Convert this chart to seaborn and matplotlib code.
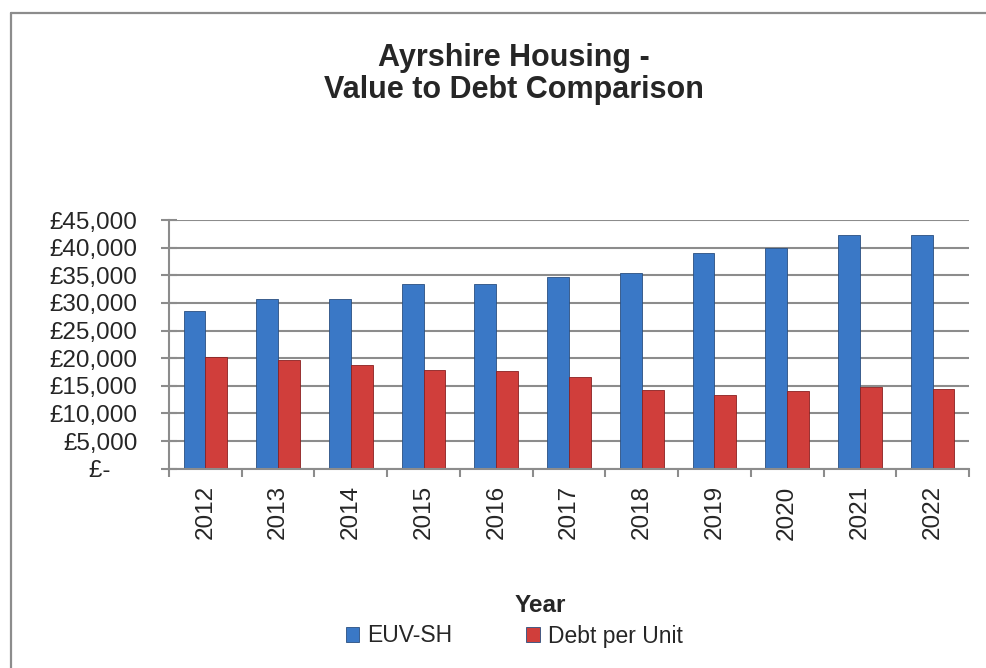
import pandas as pd
import matplotlib.pyplot as plt
import numpy as np
import seaborn as sns
from matplotlib.lines import Line2D
from matplotlib.ticker import FuncFormatter

# Datos
years = ['2012', '2013', '2014', '2015', '2016', '2017', '2018', '2019', '2020', '2021', '2022']
euv_sh = [28500, 30700, 30700, 33400, 33400, 34600, 35400, 39000, 39900, 42200, 42200]
debt_per_unit = [20300, 19700, 18700, 17900, 17600, 16600, 14200, 13400, 14000, 14800, 14400]
series_names = ['EUV-SH', 'Debt per Unit']

df = pd.DataFrame({
    'year': years * 2,
    'value': euv_sh + debt_per_unit,
    'series': [series_names[0]] * len(years) + [series_names[1]] * len(years),
})

sns.set_style('white')
plt.rcParams['font.family'] = ['Liberation Sans', 'DejaVu Sans']

W, H = 986, 668
fig = plt.figure(figsize=(W / 100, H / 100), dpi=100)
ax = fig.add_axes([169 / W, 1 - 468.7 / H, 800 / W, 248.7 / H])

palette = {'EUV-SH': '#3a78c6', 'Debt per Unit': '#d03e3b'}
sns.barplot(
    data=df, x='year', y='value', hue='series', order=years,
    hue_order=series_names, palette=palette, width=0.6, gap=0,
    saturation=1, edgecolor='#2a4f80', linewidth=0.6, ax=ax, legend=True
)
# bordes de las barras rojas
for bar in ax.containers[1]:
    bar.set_edgecolor('#8a2020')

ax.set_ylim(0, 45000)
ax.set_xlim(-0.5, len(years) - 0.5)
ax.set_yticks(np.arange(0, 45001, 5000))
ax.yaxis.set_major_formatter(FuncFormatter(lambda v, p: '£-    ' if v == 0 else f'£{v:,.0f}'))
ax.grid(axis='y', color='#8c8c8c', linewidth=1.5)
ax.set_axisbelow(True)

for s in ['top', 'right']:
    ax.spines[s].set_visible(False)
for s in ['left', 'bottom']:
    ax.spines[s].set_color('#8c8c8c')
    ax.spines[s].set_linewidth(1.5)

ax.tick_params(axis='y', length=11, width=1.5, color='#8c8c8c', left=True,
               direction='inout', labelsize=17.5, pad=17)

ax.set_xticks(range(len(years)))
ax.set_xticklabels(years, rotation=90, fontsize=17.5)
ax.tick_params(axis='x', which='major', length=0, pad=12)
ax.set_xticks(np.arange(-0.5, len(years)), minor=True)
ax.tick_params(axis='x', which='minor', length=6, width=1.5, color='#8c8c8c', bottom=True)

ax.set_xlabel('')
ax.set_ylabel('')

fig.text(514 / W, 1 - 74 / H, 'Ayrshire Housing -\nValue to Debt Comparison',
         ha='center', va='center', fontsize=22, fontweight='bold', linespacing=1.12)
fig.text(540 / W, 1 - 606 / H, 'Year', ha='center', va='center', fontsize=17.5, fontweight='bold')

ax.legend_.remove()
handles, labels = ax.get_legend_handles_labels()
fig.legend(handles, labels, loc='center', bbox_to_anchor=(514 / W, 1 - 636 / H), ncol=2,
           frameon=False, fontsize=16.5, handlelength=0.6, handleheight=0.6,
           handletextpad=0.35, columnspacing=3.2, borderpad=0)

# marco (solo arriba e izquierda, como en la captura)
fig.add_artist(Line2D([11 / W, 1], [1 - 13 / H, 1 - 13 / H], transform=fig.transFigure,
                      color='#8c8c8c', linewidth=1.6))
fig.add_artist(Line2D([11 / W, 11 / W], [0, 1 - 13 / H], transform=fig.transFigure,
                      color='#8c8c8c', linewidth=1.6))

fig.savefig('out.png', dpi=100)
